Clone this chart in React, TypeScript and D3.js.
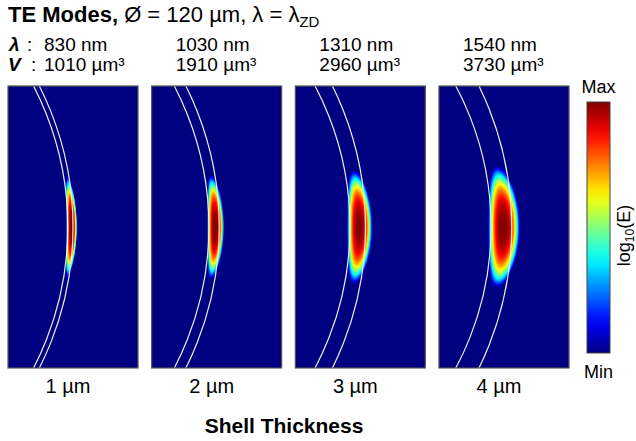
import React, { useMemo } from 'react'
import * as d3 from 'd3'

// values
const thicknessUm = [1, 2, 3, 4]
const wavelengthNm = [830, 1030, 1310, 1540]
const volumeUm3 = [1010, 1910, 2960, 3730]
// visible extent of the mode in log scale (µm)
const modeInnerHalf = [1.05, 1.55, 2.35, 2.9]
const modeOuterHalf = [1.15, 1.75, 2.6, 3.3]
const modeAxialHalf = [9.8, 10.1, 11.0, 11.8]
const modeOffset = [0.2, 0.2, 0.25, 0.3] // mode centre vs. middle of the shell
const shellDiameterUm = 120
const colorbarTicks = ['Max', 'Min']

const W = 636
const H = 441
const panelTop = 86
const panelBottom = 368
const radialWindow: [number, number] = [47.9, 73.1] // µm shown across one panel
const font = "'Liberation Sans', Arial, sans-serif"

// jet colour map
function jet(t: number): [number, number, number] {
	const c = (v: number) => Math.max(0, Math.min(1, v))
	return [c(1.5 - Math.abs(4 * t - 3)), c(1.5 - Math.abs(4 * t - 2)), c(1.5 - Math.abs(4 * t - 1))]
}

export default function App() {
	const band = d3.scaleBand<number>().domain(thicknessUm).range([8, 569]).paddingInner(0.095).paddingOuter(0)
	const pw = Math.round(band.bandwidth())
	const ph = panelBottom - panelTop
	const xs = d3.scaleLinear().domain(radialWindow).range([0, pw])
	const k = pw / (radialWindow[1] - radialWindow[0]) // px per µm
	const zMax = ph / 2 / k
	const ys = d3.scaleLinear().domain([zMax, -zMax]).range([0, ph])
	const R = shellDiameterUm / 2

	// field images, one per panel
	const images = useMemo(() => {
		return thicknessUm.map((t, i) => {
			const canvas = document.createElement('canvas')
			canvas.width = pw
			canvas.height = ph
			const ctx = canvas.getContext('2d')!
			const img = ctx.createImageData(pw, ph)
			const rc = R + modeOffset[i]
			for (let py = 0; py < ph; py++) {
				const z = ys.invert(py + 0.5)
				for (let px = 0; px < pw; px++) {
					const x = xs.invert(px + 0.5)
					const r = Math.hypot(x, z)
					const dr = r - rc
					const ur = dr < 0 ? dr / modeInnerHalf[i] : dr / modeOuterHalf[i]
					const uz = z / modeAxialHalf[i]
					const u = Math.sqrt(ur * ur + uz * uz)
					const v = Math.max(0, 1 - Math.pow(u, 2.8))
					const [cr, cg, cb] = jet(v)
					const o = (py * pw + px) * 4
					img.data[o] = Math.round(cr * 255)
					img.data[o + 1] = Math.round(cg * 255)
					img.data[o + 2] = Math.round(cb * 255)
					img.data[o + 3] = 255
				}
			}
			ctx.putImageData(img, 0, 0)
			return canvas.toDataURL()
		})
	}, [])

	const cbX = 587
	const cbW = 23
	const cbTop = 102
	const cbBottom = 353
	const cbStops = d3.range(0, 1.0001, 0.05)

	return (
		<svg width={W} height={H} style={{ position: 'absolute', left: 0, top: 0, background: '#fff' }} fontFamily={font}>
			<defs>
				{thicknessUm.map(t => (
					<clipPath id={`clip-${t}`} key={t}>
						<rect x={band(t)} y={panelTop} width={pw} height={ph} />
					</clipPath>
				))}
				<linearGradient id="jet" x1="0" y1="1" x2="0" y2="0">
					{cbStops.map(s => {
						const [r, g, b] = jet(s)
						return <stop key={s} offset={s} stopColor={d3.rgb(r * 255, g * 255, b * 255).formatHex()} />
					})}
				</linearGradient>
			</defs>

			{/* title */}
			<text x={8} y={22} fontSize={22}>
				<tspan fontWeight="bold">TE Modes,</tspan>
				<tspan> Ø = 120 µm, λ = λ</tspan>
				<tspan fontSize={15} dy={5}>ZD</tspan>
			</text>

			{/* row headers */}
			<text x={9} y={51} fontSize={19} fontWeight="bold" fontStyle="italic">λ</text>
			<text x={27} y={51} fontSize={19}>:</text>
			<text x={8} y={71} fontSize={19} fontWeight="bold" fontStyle="italic">V</text>
			<text x={31} y={71} fontSize={19}>:</text>
			{thicknessUm.map((t, i) => {
				const x = i === 0 ? 44 : band(t)! + 24
				return (
					<g key={t}>
						<text x={x} y={51} fontSize={19}>{wavelengthNm[i]} nm</text>
						<text x={x} y={71} fontSize={19}>{volumeUm3[i]} µm³</text>
					</g>
				)
			})}

			{/* panels */}
			{thicknessUm.map((t, i) => {
				const x0 = band(t)!
				const cx = x0 + xs(0)
				const cy = panelTop + ys(0)
				return (
					<g key={t}>
						<image href={images[i]} x={x0} y={panelTop} width={pw} height={ph} preserveAspectRatio="none" />
						<g clipPath={`url(#clip-${t})`} fill="none" stroke="#eeeeee" strokeWidth={1.2}>
							<circle cx={cx} cy={cy} r={(R - t / 2) * k} />
							<circle cx={cx} cy={cy} r={(R + t / 2) * k} />
						</g>
						<rect x={x0} y={panelTop} width={pw} height={ph} fill="none" stroke="#555" strokeWidth={1.2} />
						<text x={x0 + pw / 2 - 5} y={393} fontSize={20} textAnchor="middle">{t} µm</text>
					</g>
				)
			})}

			<text x={284} y={433} fontSize={21} fontWeight="bold" textAnchor="middle">Shell Thickness</text>

			{/* colour bar */}
			<rect x={cbX} y={cbTop} width={cbW} height={cbBottom - cbTop} fill="url(#jet)" stroke="#444" strokeWidth={1} />
			<text x={cbX + cbW / 2} y={93} fontSize={18} textAnchor="middle">{colorbarTicks[0]}</text>
			<text x={cbX + cbW / 2} y={378} fontSize={18} textAnchor="middle">{colorbarTicks[1]}</text>
			<text transform={`translate(630, ${(cbTop + cbBottom) / 2 + 8}) rotate(-90)`} fontSize={18} textAnchor="middle">
				log<tspan fontSize={12} dy={4}>10</tspan><tspan dy={-4}>(E)</tspan>
			</text>
		</svg>
	)
}
